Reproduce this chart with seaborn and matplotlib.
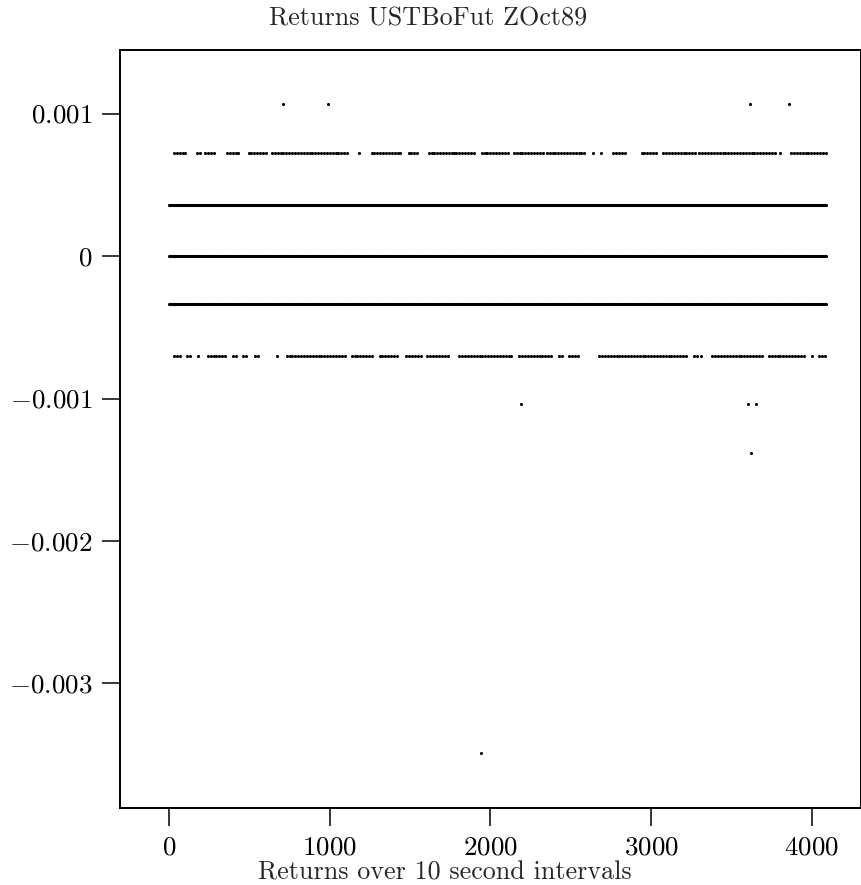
import numpy as np
import pandas as pd
import matplotlib
matplotlib.use("Agg")
import matplotlib.pyplot as plt
import seaborn as sns

# ---- data ----
# return levels (multiples of one price tick)
level_values = [0.00072, 0.00036, 0.0, -0.00034, -0.00070]

# x-ranges (interval index) where observations sit on each level
runs_plus2 = [[30, 115], [175, 195], [225, 285], [360, 440], [495, 620], [640, 1120],
              [1180, 1180], [1260, 1450], [1490, 1560], [1615, 1760], [1770, 1900],
              [1945, 2120], [2145, 2335], [2350, 2600], [2640, 2640], [2690, 2690],
              [2765, 2845], [2940, 3030], [3075, 3280], [3300, 3775], [3800, 3800],
              [3870, 4087]]
runs_plus1 = [[0, 4090]]
runs_zero = [[0, 4090]]
runs_minus1 = [[0, 4090]]
runs_minus2 = [[30, 67], [111, 142], [179, 179], [241, 359], [396, 427], [459, 490],
               [533, 552], [670, 670], [732, 1105], [1136, 1266], [1310, 1434],
               [1477, 1577], [1608, 1744], [1806, 2136], [2179, 2378], [2428, 2459],
               [2490, 2552], [2676, 3223], [3266, 3285], [3310, 3310], [3378, 3452],
               [3471, 3701], [3732, 3962], [3999, 3999], [4042, 4086]]

# isolated large returns
outlier_x = [706, 986, 3612, 3854, 2192, 3604, 3654, 3620, 1938]
outlier_y = [0.00107, 0.00107, 0.00107, 0.00107, -0.00104, -0.00104, -0.00104, -0.00138, -0.00349]

title = "Returns USTBoFut ZOct89"
xlabel = "Returns over 10 second intervals"
xtick_values = [0, 1000, 2000, 3000, 4000]
ytick_values = [0.001, 0.0, -0.001, -0.002, -0.003]
ytick_labels = [r"$0.001$", r"$0$", r"$-0.001$", r"$-0.002$", r"$-0.003$"]

# ---- build table ----
all_runs = [runs_plus2, runs_plus1, runs_zero, runs_minus1, runs_minus2]
steps = [18, 4, 4, 4, 18]
xs, ys = [], []
for lvl, runs, st in zip(level_values, all_runs, steps):
    for a, b in runs:
        pts = np.arange(a, b + 1, st)
        xs.extend(pts.tolist())
        ys.extend([lvl] * len(pts))
xs.extend(outlier_x)
ys.extend(outlier_y)
df = pd.DataFrame({"interval": xs, "ret": ys})

# ---- plot ----
sns.set_style("white")
plt.rcParams["mathtext.fontset"] = "cm"
plt.rcParams["font.family"] = ["cmr10", "DejaVu Serif"]
plt.rcParams["axes.unicode_minus"] = False

fig = plt.figure(figsize=(8.62, 8.85), dpi=100)
ax = fig.add_axes([120 / 862, 1 - 808 / 885, (861 - 120) / 862, (808 - 50) / 885])

sns.scatterplot(data=df, x="interval", y="ret", color="black", s=5, linewidth=0,
                marker="o", ax=ax, legend=False)

ax.set_xlim(-305, 4305)
ax.set_ylim(-0.003874, 0.001446)

ax.set_xticks(xtick_values)
ax.set_xticklabels([rf"${v}$" for v in xtick_values])
ax.set_yticks(ytick_values)
ax.set_yticklabels(ytick_labels)
ax.tick_params(axis="both", direction="out", length=13, width=1.1, labelsize=19.5,
               color="black", labelcolor="black", pad=7, left=True, bottom=True)

for sp in ax.spines.values():
    sp.set_visible(True)
    sp.set_color("black")
    sp.set_linewidth(1.4)

ax.set_xlabel(xlabel, fontsize=18.8)
ax.xaxis.label.set_va("baseline")
ax.xaxis.set_label_coords((445 - 120) / 741, -(880 - 808) / 758)
ax.set_ylabel("")
ax.set_title(title, fontsize=18.8, x=(428 - 120) / 741, y=(808 - 34) / 758, va="baseline")

fig.savefig("out.png", dpi=100, facecolor="white")
